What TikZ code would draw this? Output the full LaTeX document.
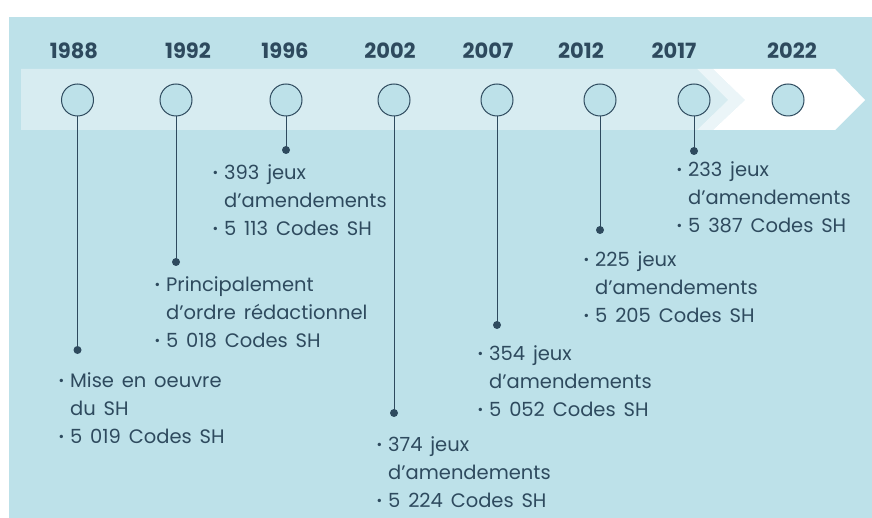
\documentclass[tikz,border=0pt]{standalone}
\usepackage{fontspec}
\setmainfont{Poppins}
\newfontfamily\infofont[WordSpace=1.5]{Poppins}
\definecolor{bg}{HTML}{BDE1E9}
\definecolor{band}{HTML}{D7ECF1}
\definecolor{ghost}{HTML}{EBF5F8}
\definecolor{ink}{HTML}{2E4A5E}
\newcommand\bul{\llap{\raisebox{1.5pt}{\scalebox{0.7}{•}}\hspace{6pt}}}
\tikzset{
  year/.style={font=\bfseries\fontsize{21}{24}\selectfont, text=ink, inner sep=0pt},
  ring/.style={circle, draw=ink, line width=1pt, fill=bg, minimum size=32pt, inner sep=0pt},
  dotnode/.style={circle, fill=ink, minimum size=8pt, inner sep=0pt},
  conn/.style={draw=ink, line width=1pt},
  info/.style={font=\infofont\fontsize{19.5}{28}\selectfont, text=ink, align=left, anchor=north west, inner sep=0pt}
}
\begin{document}
\begin{tikzpicture}[x=1pt,y=-1pt]
\useasboundingbox (0,0) rectangle (872,518);
\fill[white] (0,0) rectangle (872,518);
\fill[bg] (9,17) rectangle (872,518);
\fill[band] (21,69) -- (697,69) -- (728,100) -- (697,130) -- (21,130) -- cycle;
\fill[ghost] (697,69) -- (713,69) -- (745,100) -- (713,130) -- (697,130) -- (728,100) -- cycle;
\fill[white] (713,69) -- (835,69) -- (865,100) -- (835,130) -- (713,130) -- (745,100) -- cycle;

\node[year] (y1988) at (74,51) {1988};
\node[year] (y1992) at (188,51) {1992};
\node[year] (y1996) at (285,51) {1996};
\node[year] (y2002) at (390,51) {2002};
\node[year] (y2007) at (488,51) {2007};
\node[year] (y2012) at (581,51) {2012};
\node[year] (y2017) at (674,51) {2017};
\node[year] (y2022) at (792,51) {2022};

\node[ring] (c1988) at (77.5,100) {};
\node[ring] (c1992) at (176,100) {};
\node[ring] (c1996) at (286,100) {};
\node[ring] (c2002) at (394,100) {};
\node[ring] (c2007) at (497,100) {};
\node[ring] (c2012) at (600,100) {};
\node[ring] (c2017) at (694,100) {};
\node[ring] (c2022) at (788,100) {};

\node[dotnode] (d1988) at (77.5,350) {};
\node[dotnode] (d1992) at (176,262) {};
\node[dotnode] (d1996) at (286,150) {};
\node[dotnode] (d2002) at (394,413) {};
\node[dotnode] (d2007) at (497,325) {};
\node[dotnode] (d2012) at (600,230) {};
\node[dotnode] (d2017) at (694,151) {};

\foreach \y in {1988,1992,1996,2002,2007,2012,2017}
  \draw[conn] (c\y.south) -- (d\y.center);

\node[info] (t1988) at (70,372) {\bul Mise en oeuvre\\du SH\\\bul 5 019 Codes SH};
\node[info] (t1992) at (166,276) {\bul Principalement\\d’ordre rédactionnel\\\bul 5 018 Codes SH};
\node[info] (t1996) at (224,164) {\bul 393 jeux\\d’amendements\\\bul 5 113 Codes SH};
\node[info] (t2002) at (388,436) {\bul 374 jeux\\d’amendements\\\bul 5 224 Codes SH};
\node[info] (t2007) at (489,345) {\bul 354 jeux\\d’amendements\\\bul 5 052 Codes SH};
\node[info] (t2012) at (595,251) {\bul 225 jeux\\d’amendements\\\bul 5 205 Codes SH};
\node[info] (t2017) at (688,161) {\bul 233 jeux\\d’amendements\\\bul 5 387 Codes SH};
\end{tikzpicture}
\end{document}
